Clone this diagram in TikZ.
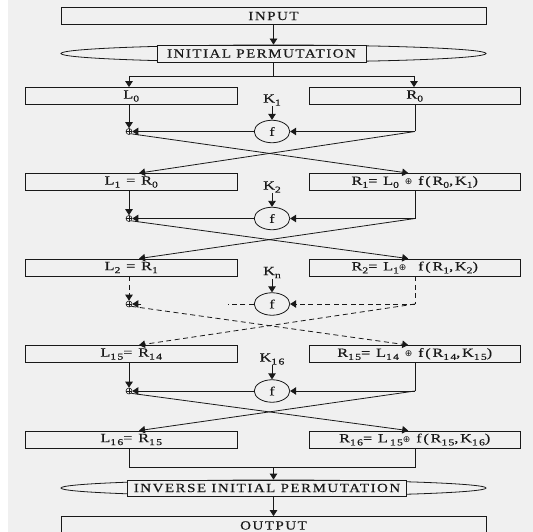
\documentclass[tikz,border=0pt]{standalone}
\usepackage{fontspec}
\setmainfont{Liberation Serif}
\newfontfamily\mixf{Liberation Serif}[LetterSpace=14,FakeStretch=1.3,FakeBold=0.35]
\newfontfamily\capsf{Liberation Serif}[LetterSpace=12,FakeStretch=1.2,FakeBold=0.35]
\newfontfamily\symf{DejaVu Sans}
\usetikzlibrary{arrows.meta,shapes.geometric,calc}
\definecolor{bgc}{RGB}{240,240,240}
\definecolor{lnc}{RGB}{25,25,25}
\newcommand{\sbx}[1]{\raisebox{-3pt}{\fontsize{9}{9}\selectfont #1}}
\newcommand{\xr}{{\symf\fontsize{9}{9}\selectfont ⊕}}
\begin{document}
\begin{tikzpicture}[x=1pt,y=-1pt,
  font=\mixf\fontsize{12.5}{13}\selectfont, text=lnc,
  wire/.style={draw=lnc, line width=0.8pt},
  arr/.style={wire, -{Triangle[width=7.5pt,length=6pt]}},
  dsh/.style={dash pattern=on 5pt off 3.5pt},
  halfbox/.style={draw=lnc, line width=0.8pt, inner sep=0pt, minimum width=211.5pt, minimum height=17pt},
  widebox/.style={draw=lnc, line width=0.8pt, inner sep=0pt, minimum width=425pt, minimum height=17pt, font=\capsf\fontsize{12.5}{13}\selectfont},
  lens/.style={ellipse, draw=lnc, line width=0.8pt, inner sep=0pt, minimum width=425pt, minimum height=17pt},
  lenstext/.style={draw=lnc, line width=0.8pt, fill=bgc, inner sep=0pt, minimum height=17pt, font=\capsf\fontsize{12.5}{13}\selectfont},
  fbox/.style={ellipse, draw=lnc, line width=0.8pt, inner sep=0pt, minimum width=35.5pt, minimum height=22.5pt},
  klab/.style={inner sep=0.5pt},
  xorn/.style={circle, draw=lnc, line width=0.6pt, inner sep=0pt, minimum size=6pt,
    path picture={\draw[lnc, line width=0.5pt] (path picture bounding box.north) -- (path picture bounding box.south)
      (path picture bounding box.west) -- (path picture bounding box.east);}}
]
\useasboundingbox (0,0) rectangle (533,532);
\fill[white] (0,0) rectangle (533,532);
\fill[bgc] (8,0) rectangle (533,532);
\clip (0,0) rectangle (533,532);

% top
\node[widebox] (in) at (273.5,16) {INPUT};
\node[lens] (ip) at (273.5,53.5) {};
\node[lenstext, minimum width=209pt] (ipt) at (261.5,53.5) {INITIAL PERMUTATION};
\draw[arr] (in.south) -- (ip.north);
\coordinate (sp) at (273.5,76);
\coordinate (spl) at (129,76);
\coordinate (spr) at (414,76);

% row 0
\node[halfbox] (l0) at (131.25,96) {L\sbx{0}};
\node[halfbox] (r0) at (414.75,96) {R\sbx{0}};
\draw[wire] (ip.south) -- (sp);
\draw[wire] (spl) -- (spr);
\draw[arr] (spl) -- (l0.north -| spl);
\draw[arr] (spr) -- (r0.north -| spr);

% round 1
\node[klab] (k1) at (272,100) {K\sbx{1}};
\node[fbox] (f1) at (272,131.5) {f};
\node[xorn] (x1) at (129,131.5) {};
\coordinate (c1) at (415,131.5);
\draw[arr] (k1) -- (f1);
\draw[arr] (l0.south -| x1) -- (x1);
\draw[wire] (r0.south -| c1) -- (c1);
\draw[arr] (c1) -- (f1);
\draw[arr] (f1) -- (x1);
\node[halfbox] (l1) at (131.25,182) {L\sbx{1} = R\sbx{0}};
\node[halfbox] (r1) at (414.75,182) {R\sbx{1}= L\sbx{0} \xr\ f(R\sbx{0},K\sbx{1})};
\draw[arr] (x1.south east) -- ($(r1.north)+(-6.5,0)$);
\draw[arr] (c1) -- ($(l1.north)+(7.75,0)$);

% round 2
\node[klab] (k2) at (272,187) {K\sbx{2}};
\node[fbox] (f2) at (272,218.5) {f};
\node[xorn] (x2) at (129,218.5) {};
\coordinate (c2) at (415,218.5);
\draw[arr] (k2) -- (f2);
\draw[arr] (l1.south -| x2) -- (x2);
\draw[wire] (r1.south -| c2) -- (c2);
\draw[arr] (c2) -- (f2);
\draw[arr] (f2) -- (x2);
\node[halfbox] (l2) at (131.25,267.5) {L\sbx{2} = R\sbx{1}};
\node[halfbox] (r2) at (414.75,267.5) {R\sbx{2}= L\sbx{1}\xr\ \ f(R\sbx{1},K\sbx{2})};
\draw[arr] (x2.south east) -- ($(r2.north)+(-6.5,0)$);
\draw[arr] (c2) -- ($(l2.north)+(7.75,0)$);

% round n (dashed)
\node[klab] (kn) at (272,272.5) {K\sbx{n}};
\node[fbox] (fn) at (272,304) {f};
\node[xorn] (xn) at (129,304) {};
\coordinate (cn) at (415,304);
\coordinate (stub) at (227.5,304);
\coordinate (xa) at (141,304);
\draw[arr] (kn) -- (fn);
\draw[arr, dsh] (l2.south -| xn) -- (xn);
\draw[wire, dsh] (r2.south -| cn) -- (cn);
\draw[arr, dsh] (cn) -- (fn);
\draw[wire, dsh] (fn) -- (stub);
\draw[arr] (xa) -- (xn);
\node[halfbox] (l15) at (131.25,354) {L\sbx{15}= R\sbx{14}};
\node[halfbox] (r15) at (414.75,354) {R\sbx{15}= L\sbx{14} \xr\ f(R\sbx{14},K\sbx{15})};
\draw[arr, dsh] (xn.south east) -- ($(r15.north)+(-6.5,0)$);
\draw[arr, dsh] (cn) -- ($(l15.north)+(7.75,0)$);

% round 16
\node[klab] (k16) at (272,359) {K\sbx{16}};
\node[fbox] (f16) at (272,391) {f};
\node[xorn] (x16) at (129,391) {};
\coordinate (c16) at (415,391);
\draw[arr] (k16) -- (f16);
\draw[arr] (l15.south -| x16) -- (x16);
\draw[wire] (r15.south -| c16) -- (c16);
\draw[arr] (c16) -- (f16);
\draw[arr] (f16) -- (x16);
\node[halfbox] (l16) at (131.25,439.5) {L\sbx{16}= R\sbx{15}};
\node[halfbox] (r16) at (414.75,439.5) {R\sbx{16}= L\,\sbx{15}\xr\ f(R\sbx{15},K\sbx{16})};
\draw[arr] (x16.south east) -- ($(r16.north)+(-6.5,0)$);
\draw[arr] (c16) -- ($(l16.north)+(7.75,0)$);

% bottom
\coordinate (ml) at (129,467);
\coordinate (mr) at (415,467);
\coordinate (mc) at (273.5,467);
\node[lens, minimum height=16pt] (iip) at (273.5,488) {};
\node[lenstext, minimum width=279pt, minimum height=16pt] (iipt) at (267,488) {INVERSE INITIAL PERMUTATION};
\node[widebox, minimum height=24pt] (out) at (273.5,528.5) {};
\node[inner sep=0pt] (outt) at (273.5,525.5) {\capsf\fontsize{12.5}{13}\selectfont OUTPUT};
\draw[wire] (l16.south -| ml) -- (ml) -- (mr) -- (r16.south -| mr);
\draw[arr] (mc) -- (iip.north);
\draw[arr] (iip.south) -- (out.north);
\end{tikzpicture}
\end{document}
